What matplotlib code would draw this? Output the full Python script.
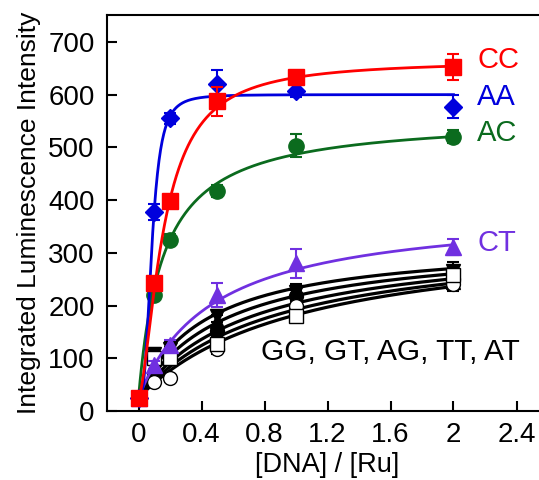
import numpy as np
import matplotlib
matplotlib.use("Agg")
import matplotlib.pyplot as plt

plt.rcParams['font.family'] = ['Liberation Sans', 'DejaVu Sans']

# ---------------- data ----------------
ratio = [0, 0.1, 0.2, 0.5, 1.0, 2.0]

cc = [25, 242, 398, 587, 633, 652]
cc_err = [0, 8, 8, 28, 12, 25]
aa = [25, 378, 555, 620, 607, 577]
aa_err = [0, 15, 10, 26, 12, 22]
ac = [25, 220, 325, 417, 503, 520]
ac_err = [0, 8, 10, 12, 22, 12]
ct = [25, 87, 125, 220, 280, 311]
ct_err = [0, 8, 10, 22, 28, 15]

gg = [25, 68, 105, 152, 218, 250]
gg_err = [0, 10, 10, 12, 12, 12]
gt = [25, 100, 100, 127, 180, 258]
gt_err = [0, 12, 10, 10, 10, 15]
ag = [25, 55, 63, 118, 200, 240]
ag_err = [0, 8, 8, 10, 10, 12]
tt = [25, 108, 118, 180, 225, 265]
tt_err = [0, 12, 12, 12, 15, 18]
at_ = [25, 80, 112, 170, 208, 245]
at_err = [0, 10, 10, 12, 12, 15]

# fit parameters (amplitude, midpoint, Hill coefficient)
fit_cc = (640, 0.16, 1.6)
fit_aa = (575, 0.085, 3.0)
fit_ac = (534, 0.156, 1.0)
fit_ct = (360, 0.48, 1.0)
fit_black = [(298, 0.43, 1.0), (300, 0.55, 1.0), (305, 0.70, 1.0),
             (310, 0.85, 1.0), (321, 1.04, 1.0)]
baseline = 25

xticks = [0, 0.4, 0.8, 1.2, 1.6, 2.0, 2.4]
xtick_labels = ["0", "0.4", "0.8", "1.2", "1.6", "2", "2.4"]
yticks = [0, 100, 200, 300, 400, 500, 600, 700]

# ---------------- plot ----------------
fig = plt.figure(figsize=(5.39, 4.8), dpi=100)
ax = fig.add_axes([107/539, 69/480, (548-107)/539, (465-69)/480])

xf = np.linspace(0, 2, 400)

def fitcurve(p):
    A, K, h = p
    return baseline + A * xf**h / (K**h + xf**h)

def series(y, err, fit, color, marker, mfc=None, ms=10, z=2, lw=2):
    ax.plot(xf, fitcurve(fit), color=color, lw=lw, zorder=z)
    ax.errorbar(ratio, y, yerr=err, fmt=marker, color=color, mfc=mfc or color,
                mec=color, ms=ms, capsize=4, elinewidth=1.5, capthick=1.5,
                zorder=z + 0.5)

black_sets = [(tt, tt_err, 'v', 'black'), (at_, at_err, '^', 'black'),
              (gg, gg_err, 'o', 'black'), (ag, ag_err, 'o', 'white'),
              (gt, gt_err, 's', 'white')]
for (y, e, m, fc), fp in zip(black_sets, [fit_black[0], fit_black[1], fit_black[2],
                                          fit_black[4], fit_black[3]]):
    series(y, e, fp, 'black', m, mfc=fc, ms=10, z=2, lw=2.3)

series(ct, ct_err, fit_ct, '#7030E0', '^', ms=11, z=3)
series(ac, ac_err, fit_ac, '#0B6B1E', 'o', ms=11, z=4)
series(aa, aa_err, fit_aa, '#0000DD', 'D', ms=9, z=5)
series(cc, cc_err, fit_cc, '#FF0000', 's', ms=11, z=6)

lab_fs = 21
ax.text(2.15, 666, "CC", color='#FF0000', fontsize=lab_fs, va='center', ha='left')
ax.text(2.15, 596, "AA", color='#0000DD', fontsize=lab_fs, va='center', ha='left')
ax.text(2.15, 527, "AC", color='#0B6B1E', fontsize=lab_fs, va='center', ha='left')
ax.text(2.15, 319, "CT", color='#7030E0', fontsize=lab_fs, va='center', ha='left')
ax.text(0.78, 112, "GG, GT, AG, TT, AT", color='black', fontsize=21.5, va='center', ha='left')

ax.set_xlim(-0.2, 2.6)
ax.set_ylim(0, 751)
ax.set_xticks(xticks)
ax.set_xticklabels(xtick_labels)
ax.set_yticks(yticks)
ax.tick_params(direction='in', length=7, width=1.5, labelsize=20)
ax.tick_params(axis='y', pad=9)
ax.tick_params(axis='x', pad=8)
for s in ax.spines.values():
    s.set_linewidth(1.5)

ax.set_xlabel("[DNA] / [Ru]", fontsize=19.5, labelpad=3)
ax.set_ylabel("Integrated Luminescence Intensity", fontsize=19, labelpad=5)

fig.savefig("out.png", dpi=100)
